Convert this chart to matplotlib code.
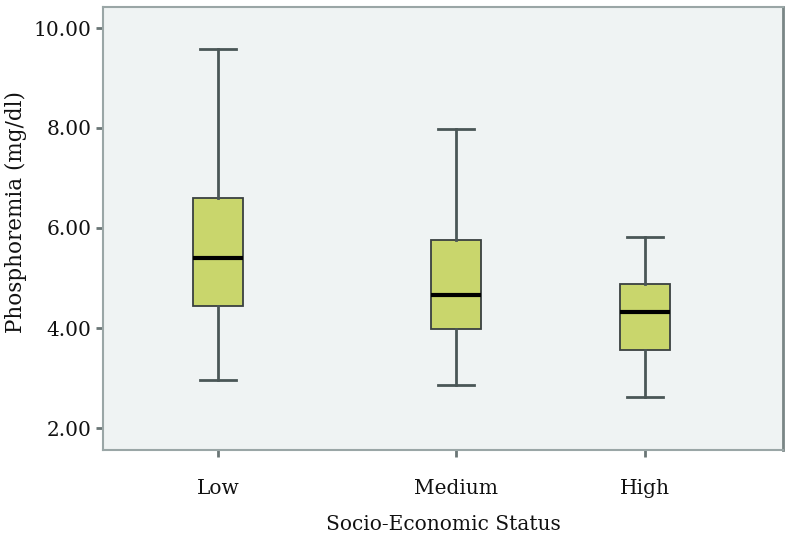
import matplotlib.pyplot as plt

groups = ['Low', 'Medium', 'High']
whislo = [2.96, 2.86, 2.62]
q1 = [4.45, 3.98, 3.57]
med = [5.40, 4.66, 4.32]
q3 = [6.60, 5.77, 4.88]
whishi = [9.57, 7.97, 5.82]

plt.rcParams['font.family'] = ['DejaVu Serif']

fig = plt.figure(figsize=(8.01, 5.56), dpi=100)
ax = fig.add_axes([103 / 801, 106 / 556, 680 / 801, 443 / 556])

stats = []
for i in range(len(groups)):
    stats.append({'label': groups[i], 'whislo': whislo[i], 'q1': q1[i],
                  'med': med[i], 'q3': q3[i], 'whishi': whishi[i], 'fliers': []})

pos = [0.169, 0.519, 0.797]
ax.bxp(stats, positions=pos, widths=0.074, capwidths=0.053, patch_artist=True,
       showfliers=False,
       boxprops=dict(facecolor='#c9d66c', edgecolor='#3a4040', linewidth=1.3),
       whiskerprops=dict(color='#4a5656', linewidth=2),
       capprops=dict(color='#4a5656', linewidth=2),
       medianprops=dict(color='black', linewidth=3))

ax.set_xlim(0, 1)
ax.set_ylim(1.56, 10.42)
ax.set_yticks([2, 4, 6, 8, 10])
ax.set_yticklabels(['2.00', '4.00', '6.00', '8.00', '10.00'])
ax.set_xticks(pos)
ax.set_xticklabels(groups)
ax.set_facecolor('#eff3f3')
for s in ['left', 'bottom', 'top']:
    ax.spines[s].set_color('#9aa6a6')
    ax.spines[s].set_linewidth(1.5)
ax.spines['right'].set_color('#7a8686')
ax.spines['right'].set_linewidth(2)
ax.tick_params(axis='both', colors='#6a7676', width=2, length=5, labelsize=14.5,
               labelcolor='#111111')
ax.tick_params(axis='x', pad=16)
ax.set_xlabel('Socio-Economic Status', fontsize=14.5, labelpad=12, color='#111111')
ax.set_ylabel('Phosphoremia (mg/dl)', fontsize=15.5, color='#111111')
ax.yaxis.set_label_coords(-0.112, 0.537)

fig.savefig('out.png', dpi=100)
